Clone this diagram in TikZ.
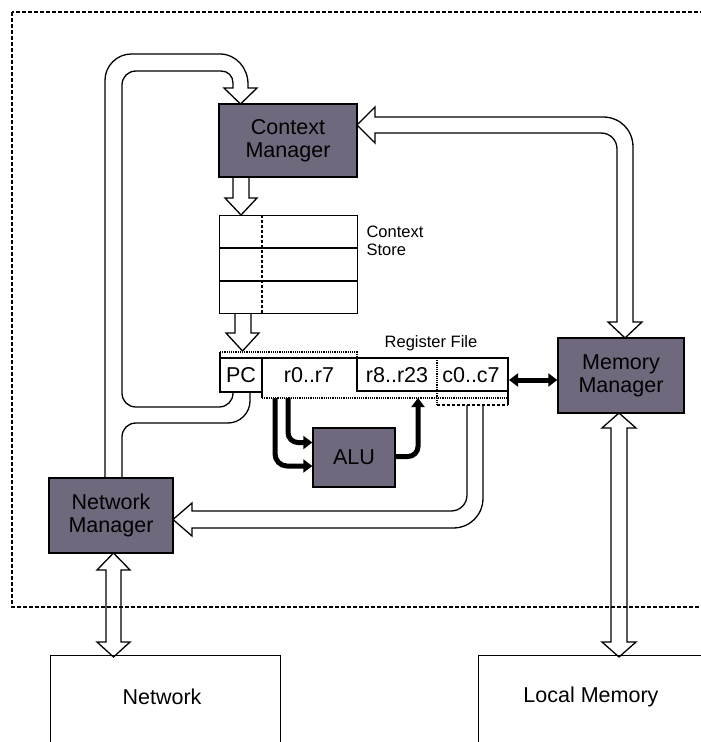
\documentclass[tikz,border=0pt]{standalone}
\usepackage{fontspec}
\setmainfont{Liberation Sans}
\usetikzlibrary{arrows.meta}
\definecolor{mgrfill}{RGB}{112,104,124}
\begin{document}
\begin{tikzpicture}[x=1pt,y=-1pt,
  big/.style={font=\fontsize{21.5}{23}\selectfont},
  small/.style={font=\fontsize{16.5}{18}\selectfont},
  mgr/.style={draw, line width=1.4pt, fill=mgrfill, align=center, big, inner sep=0pt},
  plain/.style={draw, line width=1.2pt, inner sep=0pt},
  fat/.style={draw, line width=1.3pt, line join=miter},
  thin/.style={line width=1.2pt},
  blk/.style={line width=5pt, -{Triangle[length=9pt,width=13pt]}},
  frame/.style={line width=1.1pt, dash pattern=on 4pt off 2pt}]
\useasboundingbox (0,0) rectangle (701,742);
\clip (0,0) rectangle (701,742);

% dashed frame
\draw[frame] (12,12) rectangle (720,607);

% boxes
\node[mgr, minimum width=138pt, minimum height=73pt] (cm) at (288,140.5) {Context\\Manager};
\node[mgr, minimum width=126pt, minimum height=75pt] (mm) at (621,375.5) {Memory\\Manager};
\node[mgr, minimum width=124pt, minimum height=75pt] (nm) at (111,515.5) {Network\\Manager};
\node[mgr, minimum width=82pt, minimum height=59pt] (alu) at (354,457.5) {ALU};
\node[plain, anchor=north west, minimum width=230pt, minimum height=110pt] (net) at (50,655) {};
\node[big] (nettext) at (162,697) {Network};
\node[plain, anchor=north west, minimum width=250pt, minimum height=110pt] (lm) at (478,655) {};
\node[big] (lmtext) at (591,697) {Local Memory};

% context store
\node[plain, anchor=north west, minimum width=138pt, minimum height=98pt] (cs) at (219,215) {};
\draw[thin] (219,248) -- (357,248);
\draw[thin] (219,281) -- (357,281);
\draw[thin, densely dashed] (262,215) -- (262,313);
\node[small, anchor=west, align=left] (cstext) at (363,241) {Context\\Store};

% register file
\node[small] (rftext) at (431,343) {Register File};
\draw[thin, densely dotted] (220,352) -- (357,352) -- (357,358);
\draw[thin] (220,352) -- (220,392) -- (262,392);
\draw[thin] (220,358) -- (508,358) -- (508,405);
\draw[thin] (262,358) -- (262,398);
\draw[thin] (357,358) -- (357,391) -- (508,391);
\draw[thin, densely dotted] (437,358) -- (437,405);
\draw[thin, densely dotted] (262,398) -- (508,398);
\draw[thin, densely dashed] (437,405) -- (508,405);
\node[big] (pc) at (241,375) {PC};
\node[big] (rlo) at (309,375) {r0..r7};
\node[big] (rhi) at (397,375) {r8..r23};
\node[big] (cc) at (471,375) {c0..c7};

% fat arrows
\draw[fat] (105,478) -- (105,80) .. controls (105,66) and (117,54) .. (131,54) -- (220,54)
  .. controls (236,54) and (248,68) .. (248,84) -- (248,88) -- (257,88) -- (240.5,104) -- (224,88) -- (233,88)
  -- (233,83) .. controls (233,76) and (228,71) .. (221,71) -- (136,71) .. controls (128,71) and (122,77) .. (122,85)
  -- (122,393) .. controls (122,401) and (128,407) .. (136,407) -- (219,407) .. controls (227,407) and (233,401) .. (233,393)
  -- (233,392) -- (250,392) -- (250,401) .. controls (250,413) and (240,423) .. (228,423) -- (136,423)
  .. controls (128,423) and (122,429) .. (122,437) -- (122,478);
\draw[fat] (233,177) -- (233,198) -- (225,198) -- (241,215) -- (257,198) -- (249,198) -- (249,177);
\draw[fat] (235,313) -- (235,333) -- (226,333) -- (242.5,351) -- (259,333) -- (251,333) -- (251,313);
\draw[fat] (357,125) -- (375,107) -- (375,117) -- (603,117) .. controls (620,117) and (633,130) .. (633,147)
  -- (633,322) -- (642,322) -- (625,338) -- (608,322) -- (617,322) -- (617,149)
  .. controls (617,140) and (610,133) .. (601,133) -- (375,133) -- (375,143) -- cycle;
\draw[fat] (619,413) -- (636,428) -- (627,428) -- (627,642) -- (636,642) -- (619,657)
  -- (602,642) -- (611,642) -- (611,428) -- (602,428) -- cycle;
\draw[fat] (113.5,553) -- (130,570) -- (121,570) -- (121,642) -- (130,642) -- (113.5,657)
  -- (97,642) -- (106,642) -- (106,570) -- (97,570) -- cycle;
\draw[fat] (467,405) -- (467,495) .. controls (467,504) and (460,511) .. (451,511) -- (192,511) -- (192,503)
  -- (173,519.5) -- (192,536) -- (192,528) -- (453,528) .. controls (470,528) and (483,515) .. (483,498) -- (483,405);

% black arrows
\coordinate (a1) at (288,398);
\coordinate (a2) at (275,398);
\coordinate (a3) at (418,398);
\draw[blk, rounded corners=10pt] (a1) |- ([yshift=15pt]alu.west);
\draw[blk, rounded corners=12pt] (a2) |- ([yshift=-8.5pt]alu.west);
\draw[blk, rounded corners=10pt] ([yshift=1pt]alu.east) -| (a3);
\draw[line width=5pt, {Triangle[length=9pt,width=13pt]}-{Triangle[length=9pt,width=13pt]}] (509,380) -- (mm.west |- 0,380);
\end{tikzpicture}
\end{document}
